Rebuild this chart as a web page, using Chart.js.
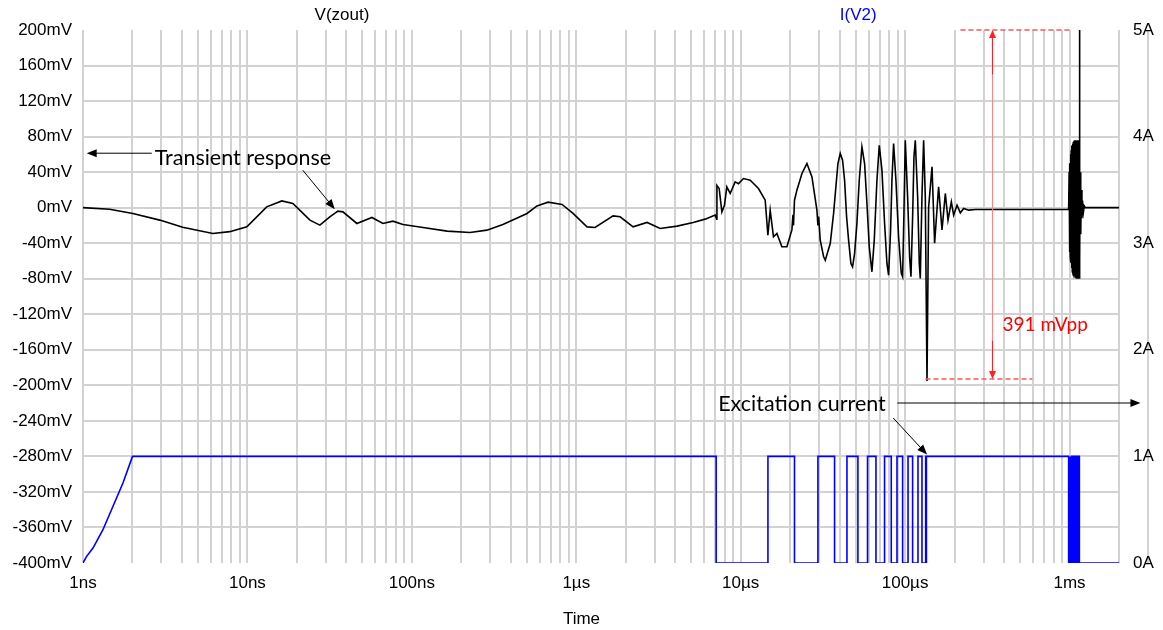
<!DOCTYPE html>
<html>
<head>
<meta charset="utf-8">
<script src="https://cdn.jsdelivr.net/npm/chart.js@4.4.1/dist/chart.umd.min.js"></script>
<style>
  html, body { margin: 0; padding: 0; background: #fff; }
  #wrap { width: 1163px; height: 630px; }
</style>
</head>
<body>
<div id="wrap"><canvas id="chart"></canvas></div>
<script>
// time in ns, V(zout) in mV, I(V2) in A
const decadeLabels = ['1ns', '10ns', '100ns', '1µs', '10µs', '100µs', '1ms'];
const mvTicks = [-400, -360, -320, -280, -240, -200, -160, -120, -80, -40, 0, 40, 80, 120, 160, 200];
const ampTicks = [0, 1, 2, 3, 4, 5];

const zoutTime = [
    1, 1.45, 2.01, 2.93, 4.04, 6.16, 7.81, 9.92, 13.1, 16.2, 18.9, 24.0, 27.6, 31.7, 35.5, 38.1,
    46.3, 57.2, 66.7, 76.7, 88.3, 117, 164, 226, 286, 358, 502, 577, 674, 820, 956, 1163, 1301,
    1675, 1848, 2217, 2697, 3237, 4107, 5140, 6079, 6998, 7150, 7170, 7398, 7687, 7969, 8241,
    8634, 9258, 9696, 10400, 11430, 12830, 14100, 14640, 15120, 15830, 16610, 17810, 19110,
    20490, 20800, 20950, 21250, 21980, 23590, 25290, 27130, 29090, 29500, 29800, 30470, 31920,
    32690, 35060, 36740, 39040, 40330, 41670, 42860, 44080, 45330, 46830, 47930, 49300, 50930,
    52630, 54640, 56720, 58610, 60550, 62850, 64940, 67420, 69660, 72310, 75060, 77550, 79380,
    81640, 83180, 85140, 87960, 91310, 94800, 96590, 98400, 100270, 103600, 106560, 108580,
    111130, 113230, 115370, 119210, 122020, 123730, 126650, 129640, 132730, 135900, 139000,
    145800, 151200, 159900, 167700, 175700, 182400, 191100, 197400, 207000, 216800, 227100,
    243500, 267500, 988000,
    990000, 995000, 1000000, 1005000, 1010000, 1015000, 1020000, 1025000, 1030000, 1035000,
    1040000, 1045000, 1050000, 1055000, 1060000, 1065000, 1070000, 1075000, 1080000, 1085000,
    1090000, 1095000, 1100000, 1105000, 1110000, 1115000, 1120000, 1125000, 1130000, 1140000,
    1145000, 1150000, 1155000, 1160000, 1170000, 1180000, 1190000, 1200000, 1215000, 1230000,
    1250000, 2000000
];
const zoutMv = [
    0, -1.7, -6.5, -14, -22, -29, -27, -21.6, 0.9, 7.6, 4.7, -14, -19.7, -10.3, -3.9, -4.7,
    -17.8, -11, -17.8, -15.2, -18.9, -22.3, -26.4, -27.9, -25.3, -18.9, -6.5, 2, 6.2, 3.6, -6.5, -21.6, -22.3,
    -9.2, -10.3, -21.6, -16.6, -23.4, -20.8, -16.6, -12.9, -8.4, -13, 25, 21.6, -4.7, 2.8, 23.4,
    16, 29, 27, 32.8, 31, 21.6, 8.4, -31, -2.8, -32.8, -29, -44, -44,
    -25, -8, -20, 8.4, 19.7, 38.5, 49.7, 34.6, -2.8, -20, -10, -36.6, -55,
    -59.1, -40.3, -6.5, 49.7, 61, 53.4, 30.9, -10.3, -36.6, -62.8, -66.6, -51.5, -17.8,
    30.9, 68.4, 49.7, 4.7, -44.1, -72.2, -36.6, 30.9, 70.3, 42.2, -17.8, -62.8, -75.9,
    -25.3, 30.9, 72.2, 30.9, -32.8, -74, -77.8, -6.5, 75.9, 12.2, -55.3, -77.8,
    -10.3, 57.2, 75.9, 12.2, -62.8, -79.7, 12.2, 75.9, 12.2, -195, 0,
    46, -40, 23.4, -25, 16, -14, 6.5, -8.4, 2.8, -5.8, -1,
    -2.8, -2, -2,
    -2, 40, -50, 50, -55, 60, -62, 65, -68, 70,
    -72, 72, -74, 74, -76, 75, -77, 76, -78, 76,
    -78, 76, -79, 76, -79, 76, -79, 76, -79, 76,
    -79, 200, -60, 40, -30, 20, -12, 8, -5, 2,
    0, 0
];

// I(V2): ramp at start, then switching edges (each one toggles 1A / 0A)
const rampTime = [1, 1.05, 1.15, 1.32, 1.52, 1.75, 2.0];
const rampAmp = [0, 0.06, 0.14, 0.31, 0.53, 0.75, 1.0];
const toggleTime = [
    7096, 14650, 21250, 29500, 37240, 44300, 51650, 59100, 66500, 75000, 82400, 89300,
    96600, 104200, 111100, 119800, 126700, 132700, 133300, 133900, 134500, 134900,
    988000, 996000, 1004000, 1012000, 1020000, 1028000, 1036000, 1044000, 1052000, 1060000,
    1068000, 1076000, 1084000, 1092000, 1100000, 1108000, 1116000, 1124000, 1132000,
    1140000, 1148000
];
const endTime = 2000000;

const zoutPoints = zoutTime.map((t, i) => ({ x: t, y: zoutMv[i] }));

const currentPoints = rampTime.map((t, i) => ({ x: t, y: rampAmp[i] }));
let level = 1;
toggleTime.forEach(t => {
    currentPoints.push({ x: t, y: level });
    level = 1 - level;
    currentPoints.push({ x: t, y: level });
});
currentPoints.push({ x: endTime, y: level });

const gridTimes = [];
for (let d = 1; d <= 1e6; d *= 10) {
    for (let k = 1; k <= 9; k++) {
        gridTimes.push(k * d);
    }
}
gridTimes.push(endTime);

const gridColor = '#d2d2d2';
const noteFont = '21.5px Lato, "Open Sans", sans-serif';

function arrow (ctx, x1, y1, x2, y2, color, head, width) {
    const ang = Math.atan2(y2 - y1, x2 - x1);
    ctx.save();
    ctx.strokeStyle = color;
    ctx.fillStyle = color;
    ctx.lineWidth = 1;
    ctx.beginPath();
    ctx.moveTo(x1, y1);
    ctx.lineTo(x2 - Math.cos(ang) * head * 0.8, y2 - Math.sin(ang) * head * 0.8);
    ctx.stroke();
    ctx.beginPath();
    ctx.moveTo(x2, y2);
    ctx.lineTo(x2 - head * Math.cos(ang) + width * Math.sin(ang), y2 - head * Math.sin(ang) - width * Math.cos(ang));
    ctx.lineTo(x2 - head * Math.cos(ang) - width * Math.sin(ang), y2 - head * Math.sin(ang) + width * Math.cos(ang));
    ctx.closePath();
    ctx.fill();
    ctx.restore();
}

const notesPlugin = {
    id: 'notes',
    afterDatasetsDraw (chart) {
        const { ctx, chartArea } = chart;
        const x = chart.scales.x;
        const y = chart.scales.y;
        const px = v => x.getPixelForValue(v);
        const py = v => y.getPixelForValue(v);

        ctx.save();
        // series names above the plot, axis name below
        ctx.font = '17px "Liberation Sans", Arial, sans-serif';
        ctx.textAlign = 'center';
        ctx.textBaseline = 'middle';
        ctx.fillStyle = '#000';
        ctx.fillText('V(zout)', px(37.6), chartArea.top - 15);
        ctx.fillText('Time', chart.width / 2, 619);
        ctx.fillStyle = '#0000ff';
        ctx.fillText('I(V2)', px(51900), chartArea.top - 15);

        // peak-to-peak measurement
        ctx.strokeStyle = '#ff5555';
        ctx.lineWidth = 1.5;
        ctx.setLineDash([5, 3]);
        ctx.beginPath();
        ctx.moveTo(px(217000), py(200));
        ctx.lineTo(px(1000000), py(200));
        ctx.moveTo(px(133000), py(-193));
        ctx.lineTo(px(594000), py(-193));
        ctx.stroke();
        ctx.setLineDash([]);
        ctx.lineWidth = 1;
        ctx.strokeStyle = '#ff8080';
        ctx.beginPath();
        ctx.moveTo(px(340000), py(190));
        ctx.lineTo(px(340000), py(-183));
        ctx.stroke();
        arrow(ctx, px(340000), py(150), px(340000), py(200), '#ff2020', 8, 3.5);
        arrow(ctx, px(340000), py(-150), px(340000), py(-193), '#ff2020', 8, 3.5);
        ctx.font = '19px Lato, "Open Sans", sans-serif';
        ctx.textAlign = 'left';
        ctx.fillStyle = '#ff0000';
        ctx.fillText('391 mVpp', px(391000), py(-132));

        // text notes with arrows
        ctx.font = noteFont;
        ctx.fillStyle = '#000';
        ctx.fillText('Transient response', px(2.73), py(55.7));
        arrow(ctx, px(2.62), py(61.3), px(1.053), py(61.3), '#000', 10, 4);
        arrow(ctx, px(21.7), py(42.2), px(34.0), py(-1.7), '#000', 10, 4);
        ctx.fillText('Excitation current', px(7297), py(-221));
        arrow(ctx, px(89650), py(-219.9), px(2.7e6), py(-219.9), '#000', 10, 4);
        arrow(ctx, px(84700), py(-236.8), px(136000), py(-278), '#000', 10, 4);
        ctx.restore();
    }
};

Chart.defaults.font.family = '"Liberation Sans", Arial, sans-serif';
Chart.defaults.font.size = 17;
Chart.defaults.color = '#000';

new Chart(
    document.getElementById('chart'),
    {
        type: 'line',
        data: {
            datasets: [
                {
                    label: 'V(zout)',
                    data: zoutPoints,
                    yAxisID: 'y',
                    borderColor: '#000',
                    borderWidth: 1.6,
                    pointRadius: 0,
                    tension: 0
                },
                {
                    label: 'I(V2)',
                    data: currentPoints,
                    yAxisID: 'y1',
                    borderColor: '#0000ff',
                    borderWidth: 1.6,
                    pointRadius: 0,
                    tension: 0
                }
            ]
        },
        options: {
            responsive: true,
            maintainAspectRatio: false,
            animation: false,
            layout: {
                padding: { top: 30, left: 0, right: 0, bottom: 0 }
            },
            plugins: {
                legend: { display: false },
                tooltip: { enabled: false }
            },
            scales: {
                x: {
                    type: 'logarithmic',
                    min: 1,
                    max: endTime,
                    afterBuildTicks: (scale) => {
                        scale.ticks = gridTimes.map(v => ({ value: v }));
                    },
                    afterFit: (scale) => { scale.height = 67; },
                    ticks: {
                        autoSkip: false,
                        maxRotation: 0,
                        padding: 10,
                        callback: (value) => {
                            const e = Math.log10(value);
                            if (Math.abs(e - Math.round(e)) < 1e-6 && Math.round(e) < decadeLabels.length) {
                                return decadeLabels[Math.round(e)];
                            }
                            return '';
                        }
                    },
                    grid: { color: gridColor, lineWidth: 2, drawTicks: false },
                    border: { display: false }
                },
                y: {
                    position: 'left',
                    min: -400,
                    max: 200,
                    afterBuildTicks: (scale) => {
                        scale.ticks = mvTicks.map(v => ({ value: v }));
                    },
                    afterFit: (scale) => { scale.width = 83; },
                    ticks: {
                        padding: 11,
                        callback: (value) => `${value}mV`
                    },
                    grid: {
                        lineWidth: 2,
                        drawTicks: false,
                        color: (c) => (c.tick && (c.tick.value === -400 || c.tick.value === 200)) ? 'rgba(0,0,0,0)' : gridColor
                    },
                    border: { display: false }
                },
                y1: {
                    position: 'right',
                    min: 0,
                    max: 5,
                    afterBuildTicks: (scale) => {
                        scale.ticks = ampTicks.map(v => ({ value: v }));
                    },
                    afterFit: (scale) => { scale.width = 44; },
                    ticks: {
                        padding: 14,
                        callback: (value) => `${value}A`
                    },
                    grid: { display: false, drawTicks: false },
                    border: { display: false }
                }
            }
        },
        plugins: [notesPlugin]
    }
);
</script>
</body>
</html>
